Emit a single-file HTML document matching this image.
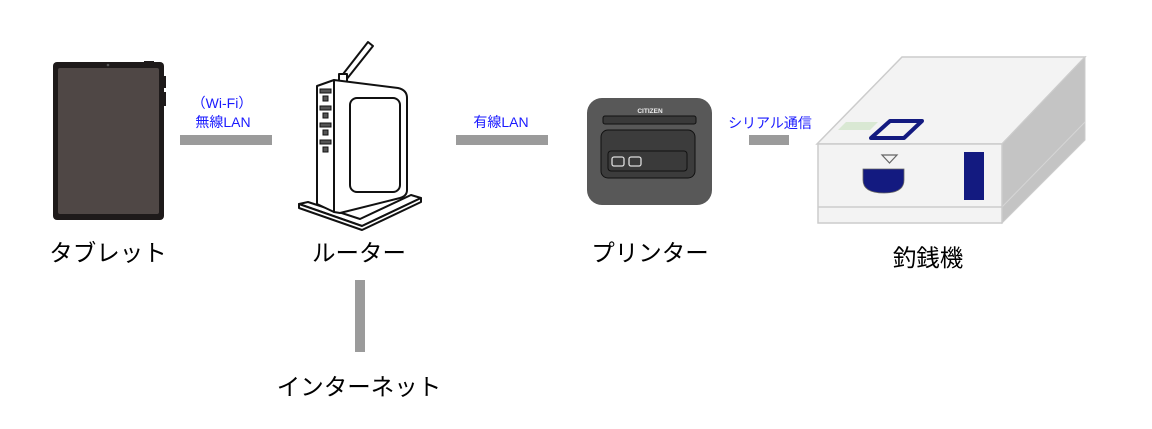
<!DOCTYPE html>
<html><head><meta charset="utf-8"><style>
html,body{margin:0;padding:0;background:#fff;}
svg{display:block;}
text{font-family:"Liberation Sans","Noto Sans CJK JP",sans-serif;}
</style></head><body>
<svg width="1152" height="429" viewBox="0 0 1152 429" xmlns="http://www.w3.org/2000/svg">
<!-- tablet -->
<rect x="53" y="62" width="111" height="158" rx="4" fill="#1e1a1a"/>
<rect x="58" y="68" width="101" height="146" rx="2" fill="#4f4745"/>
<circle cx="108" cy="65" r="1.3" fill="#555"/>
<rect x="144" y="61" width="10" height="2" fill="#1e1a1a"/>
<rect x="163" y="76" width="3" height="12" fill="#1e1a1a"/>
<rect x="163" y="92" width="3" height="14" fill="#1e1a1a"/>
<!-- connectors -->
<rect x="180" y="135" width="92" height="10" fill="#9b9b9b"/>
<rect x="456" y="135" width="92" height="10" fill="#9b9b9b"/>
<rect x="749" y="135" width="40" height="10" fill="#9b9b9b"/>
<rect x="355" y="280" width="10" height="72" fill="#9b9b9b"/>
<text x="222" y="108" font-size="14" fill="#1a1aff" text-anchor="middle" font-family="Liberation Mono,Noto Sans CJK JP,monospace">（Wi-Fi）</text>
<text x="223" y="127" font-size="14" fill="#1a1aff" text-anchor="middle">無線LAN</text>
<text x="501" y="127" font-size="14" fill="#1a1aff" text-anchor="middle">有線LAN</text>
<text x="770" y="128" font-size="14" fill="#1a1aff" text-anchor="middle">シリアル通信</text>
<!-- router -->
<g fill="#fff" stroke="#111" stroke-width="2" stroke-linejoin="round">
<polygon points="340,78 368,42 373,46 346,80"/>
<rect x="339" y="74" width="8" height="8"/>
<polygon points="299,204 362,226 421,198 411,195 360,219 308,202"/>
<polygon points="299,204 299,208 362,230 421,202 421,198 362,226"/>
<path d="M317,86 L334,80 L334,212 L317,204 Z"/>
<path d="M334,80 L398,88 Q407,90 407,98 L407,190 Q407,196 400,198 L340,213 L334,212 Z"/>
<rect x="350" y="98" width="50" height="94" rx="7"/>
</g>
<g fill="#555" stroke="#111" stroke-width="1">
<rect x="320" y="89" width="11" height="4"/><rect x="323" y="96" width="5" height="5"/>
<rect x="320" y="106" width="11" height="4"/><rect x="323" y="113" width="5" height="5"/>
<rect x="320" y="123" width="11" height="4"/><rect x="323" y="130" width="5" height="5"/>
<rect x="320" y="140" width="11" height="4"/><rect x="323" y="147" width="5" height="5"/>
</g>
<!-- printer -->
<rect x="587" y="98" width="125" height="107" rx="15" fill="#585858"/>
<text x="650" y="113" font-size="6.5" fill="#eee" text-anchor="middle" font-family="Liberation Serif,serif" font-weight="bold">CITIZEN</text>
<rect x="603" y="116" width="93" height="8" rx="2" fill="#3a3a3a" stroke="#111"/>
<rect x="601" y="130" width="94" height="48" rx="7" fill="#3c3c3c" stroke="#111"/>
<rect x="608" y="151" width="79" height="20" rx="3" fill="#3a3a3a" stroke="#111"/>
<rect x="612" y="157" width="12" height="9" rx="2" fill="none" stroke="#ddd" stroke-width="1.3"/>
<rect x="629" y="157" width="12" height="9" rx="2" fill="none" stroke="#ddd" stroke-width="1.3"/>
<!-- drawer -->
<polygon points="817,144 902,57 1085,57 1002,144" fill="#f3f3f3" stroke="#ccc" stroke-width="1.5"/>
<polygon points="1002,144 1085,57 1085,140 1002,223" fill="#c4c4c4" stroke="#ccc" stroke-width="1"/>
<line x1="1002" y1="207" x2="1085" y2="122" stroke="#d6d6d6" stroke-width="1"/>
<rect x="818" y="144" width="184" height="79" fill="#f3f3f3" stroke="#ccc" stroke-width="1.5"/>
<line x1="818" y1="207" x2="1002" y2="207" stroke="#ccc" stroke-width="1.5"/>
<polygon points="838,130 846,122 878,122 870,130" fill="#d9e8d3"/>
<polygon points="871,138 890,121 922,121 904,138" fill="none" stroke="#131a80" stroke-width="4" stroke-linejoin="round"/>
<polygon points="882,155 897,155 889.5,163" fill="none" stroke="#666" stroke-width="1.2"/>
<path d="M863,169 L904,169 L904,180 Q904,193 884,193 Q863,193 863,180 Z" fill="#131a80" stroke="#666" stroke-width="0.8"/>
<rect x="964" y="152" width="20" height="48" fill="#131a80"/>
<!-- labels -->
<text x="108" y="261" font-size="23.5" fill="#000" text-anchor="middle">タブレット</text>
<text x="359" y="261" font-size="23.5" fill="#000" text-anchor="middle">ルーター</text>
<text x="650" y="261" font-size="23.5" fill="#000" text-anchor="middle">プリンター</text>
<text x="928" y="266" font-size="23.5" fill="#000" text-anchor="middle">釣銭機</text>
<text x="359" y="395" font-size="23.5" fill="#000" text-anchor="middle">インターネット</text>
</svg>
</body></html>
